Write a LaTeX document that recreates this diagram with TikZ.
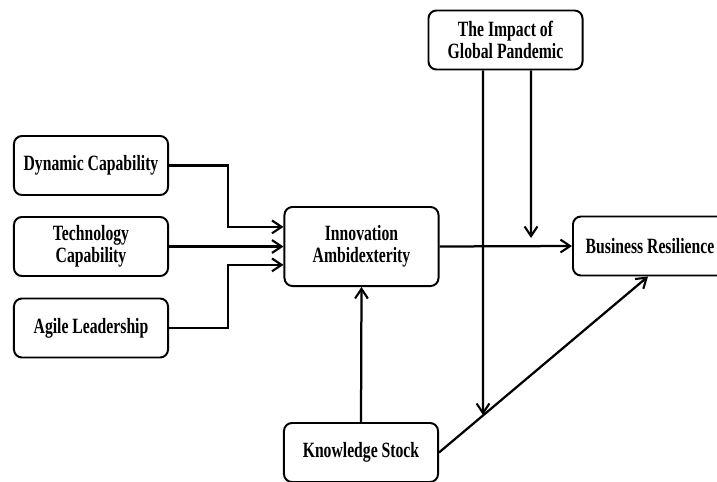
\documentclass[tikz,border=0pt]{standalone}
\usepackage{fontspec}
\setmainfont{Liberation Serif}[FakeStretch=0.72]
\usetikzlibrary{arrows.meta, calc, positioning}

\begin{document}
\begin{tikzpicture}[x=0.025cm, y=-0.025cm]

% TikZ styles
\tikzset{
  factor/.style={rectangle, rounded corners=0.2cm, draw=black, line width=1.4pt, fill=white,
    minimum width=3.85cm, minimum height=1.475cm, align=center, inner sep=2pt,
    font=\fontsize{15.5}{15.8}\selectfont\bfseries},
  central/.style={factor, minimum height=1.975cm},
  arrow/.style={-{Straight Barb[length=2.4mm, width=3.2mm, line width=1.5pt]}, line width=1.6pt}
}

\useasboundingbox (0,0) rectangle (717,481);

%==========================
% Faktoren links
%==========================
\node[factor] (dyncap)  at (91,165.5) {Dynamic Capability};
\node[factor] (techcap) at (91,246.5) {Technology\\Capability};
\node[factor] (agile)   at (91,328)   {Agile Leadership};

% Mitte und rechts
\node[central] (innov)    at (361.5,246.5) {Innovation\\Ambidexterity};
\node[factor]  (pandemic) at (505.5,40)    {The Impact of\\Global Pandemic};
\node[factor]  (resil)    at (650,246)     {Business Resilience};
\node[factor]  (knowstock) at (361,452.5)  {Knowledge Stock};

\coordinate (modtop) at (531,238);
\coordinate (modlow) at (483,415);

% Pfeile links
\draw[arrow] (dyncap.east) -- ++(59,0) |- ([yshift=0.49cm]innov.west);
\draw[arrow] (techcap.east) -- (innov.west);
\draw[arrow] (agile.east) -- ++(59,0) |- ([yshift=-0.46cm]innov.west);

% Pfeile rechts
\draw[arrow] (innov.east) -- (resil.west);
\draw[arrow] (knowstock.north) -- (innov.south);
\draw[arrow] (knowstock.east) -- ([xshift=-0.05cm]resil.south);

% Moderator
\draw[arrow] ([xshift=0.6375cm]pandemic.south) -- (modtop);
\draw[arrow] ([xshift=-0.5625cm]pandemic.south) -- (modlow);

\end{tikzpicture}
\end{document}
